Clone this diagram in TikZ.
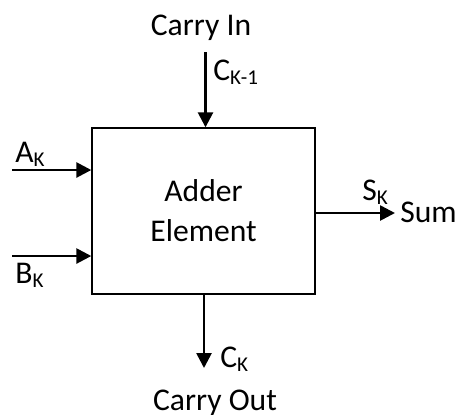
\documentclass[tikz,border=0pt]{standalone}
\usepackage{fontspec}
\setmainfont{Carlito}
\usetikzlibrary{arrows.meta, positioning}
\newcommand{\subK}[1]{\raisebox{-0.3ex}{\fontsize{12}{12}\selectfont #1}}

\begin{document}
\begin{tikzpicture}[
    x=0.02cm, y=-0.02cm,
    every node/.style={font=\fontsize{18}{22.7}\selectfont, inner sep=0pt},
    block/.style={draw=black, line width=0.8pt, minimum width=4.46cm, minimum height=3.32cm, align=center},
    signal/.style={line width=1.5pt, -{Triangle[length=0.3cm, width=0.3cm]}}
]
    \useasboundingbox (0,0) rectangle (465,414);

    % Bloco do somador
    \node[block] (adder) at (203.5,211) {Adder\\Element};

    % Carry de entrada
    \node[anchor=base] (carryin) at (201,35) {Carry In};
    \coordinate (cin) at (205.5,52);
    \draw[signal] (cin) -- (cin |- adder.north);
    \node[anchor=base west] (ckm1) at (213,80) {C\subK{K-1}};

    % Entradas A e B
    \coordinate (ain) at (12,170);
    \draw[signal] (ain) -- (ain -| adder.west);
    \node[anchor=base west] (ak) at (15,162) {A\subK{K}};

    \coordinate (bin) at (12,256);
    \draw[signal] (bin) -- (bin -| adder.west);
    \node[anchor=base west] (bk) at (15,283) {B\subK{K}};

    % Saida da soma
    \coordinate (sout) at (395,213);
    \draw[signal] (sout -| adder.east) -- (sout);
    \node[anchor=base west] (sk) at (362,200) {S\subK{K}};
    \node[anchor=base west] (sum) at (400,222) {Sum};

    % Carry de saida
    \coordinate (cout) at (204,368);
    \draw[signal] (cout |- adder.south) -- (cout);
    \node[anchor=base west] (ck) at (220,367) {C\subK{K}};
    \node[anchor=base] (carryout) at (215,410) {Carry Out};

\end{tikzpicture}
\end{document}
